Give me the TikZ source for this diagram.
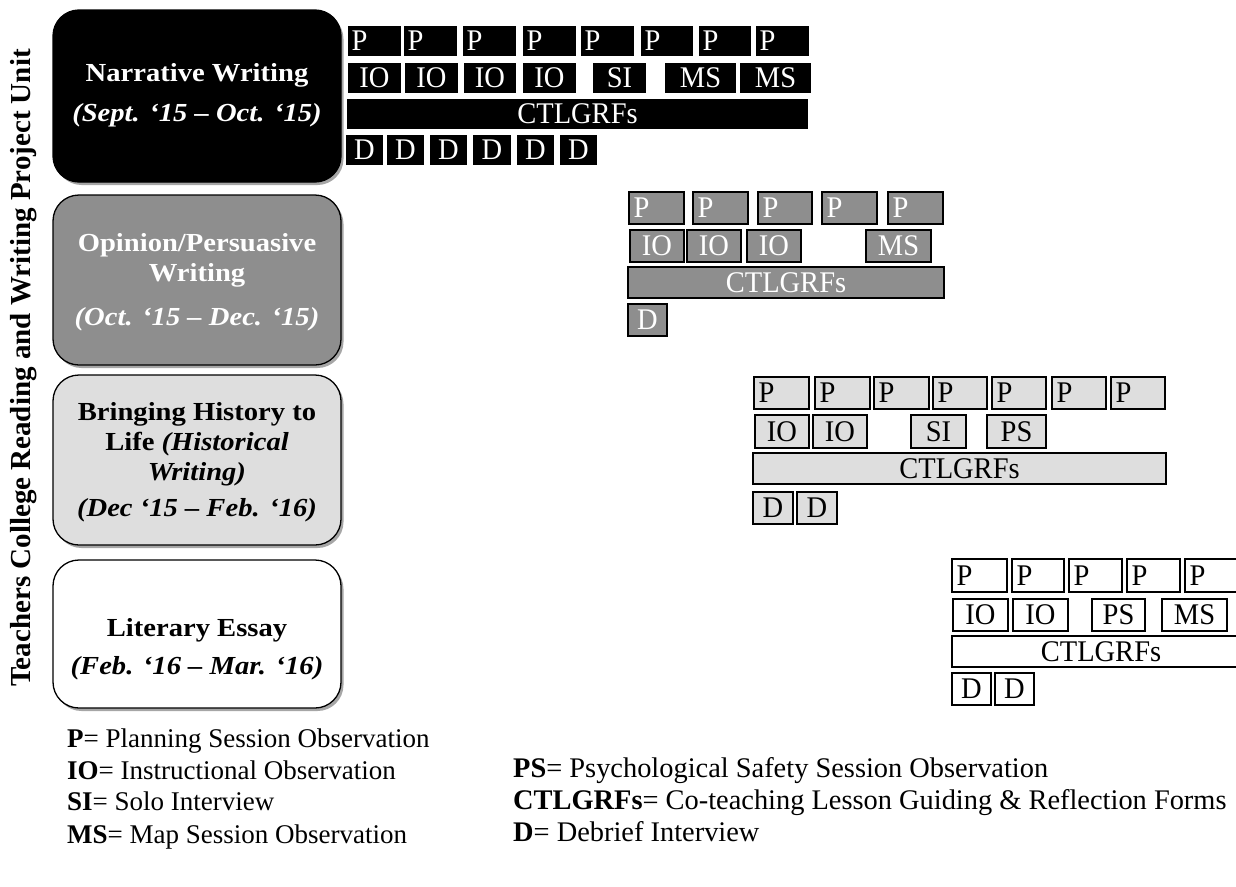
\documentclass[tikz,border=0pt]{standalone}
\usepackage{fontspec}
\setmainfont{Liberation Serif}
\newfontfamily\unitfont[FakeStretch=1.1]{Liberation Serif}
\newfontfamily\cellfont[FakeStretch=0.95]{Liberation Serif}
\usetikzlibrary{shadows}
\definecolor{midgray}{HTML}{8E8E8E}
\definecolor{palegray}{HTML}{DEDEDE}
\tikzset{
  unitbox/.style={draw=black, line width=1.3pt, rounded corners=26pt,
    drop shadow={shadow xshift=2.5pt, shadow yshift=-3pt, opacity=0.35, fill=black}},
  unitlabel/.style={align=center, inner sep=0, font=\unitfont\fontsize{26}{30}\selectfont\bfseries},
  cellbase/.style={draw=black, line width=1.1pt, inner sep=0, font=\cellfont\fontsize{30}{30}\selectfont},
  cellA/.style={cellbase, fill=black, text=white, draw=white, line width=1.4pt},
  cellB/.style={cellbase, fill=midgray, text=white},
  cellC/.style={cellbase, fill=palegray, text=black},
  cellD/.style={cellbase, fill=white, text=black},
  legend/.style={anchor=base west, inner sep=0, font=\fontsize{27}{30}\selectfont},
  legendR/.style={anchor=base west, inner sep=0, font=\fontsize{28.4}{30}\selectfont},
  titletext/.style={rotate=90, inner sep=0, font=\fontsize{29}{32}\selectfont\bfseries},
}
\newcommand{\cell}[7]{\node[#1, minimum width={#5-#3}, minimum height={#6-#4}] (#2) at ({(#3+#5)/2},{(#4+#6)/2}) {#7};}
\newcommand{\pcell}[6]{\pgfmathsetmacro{\pcw}{#5-#3-9}\node[#1, minimum width={#5-#3}, minimum height={#6-#4}, text width=\pcw pt, align=left] (#2) at ({(#3+#5)/2},{(#4+#6)/2}) {P};}
\begin{document}
\begin{tikzpicture}[x=1pt,y=-1pt]
\useasboundingbox[fill=white] (0,0) rectangle (1236,886);

% title
\node[titletext] (title) at (24,368) {Teachers College Reading and Writing Project Unit};

% unit boxes
\node[unitbox, fill=black, minimum width=288, minimum height=172] (u1) at (197,96) {};
\node[unitbox, fill=midgray, minimum width=288, minimum height=170] (u2) at (197,280) {};
\node[unitbox, fill=palegray, minimum width=288, minimum height=170] (u3) at (197,460) {};
\node[unitbox, fill=white, minimum width=288, minimum height=148] (u4) at (197,634) {};

\node[unitlabel, text=white] (l1) at (197,95) {Narrative Writing\\[10pt]\textit{(Sept. ‘15 – Oct. ‘15)}};
\node[unitlabel, text=white] (l2) at (197,282) {Opinion/Persuasive\\Writing\\[14pt]\textit{(Oct. ‘15 – Dec. ‘15)}};
\node[unitlabel, text=black] (l3) at (197,462) {Bringing History to\\Life \textit{(Historical}\\\textit{Writing)}\\[6pt]\textit{(Dec ‘15 – Feb. ‘16)}};
\node[unitlabel, text=black] (l4) at (197,649) {Literary Essay\\[8pt]\textit{(Feb. ‘16 – Mar. ‘16)}};

% block 1
\pcell{cellA}{a1}{347}{25}{402}{57}
\pcell{cellA}{a2}{403}{25}{458}{57}
\pcell{cellA}{a3}{462}{25}{517}{57}
\pcell{cellA}{a4}{522}{25}{577}{57}
\pcell{cellA}{a5}{580}{25}{635}{57}
\pcell{cellA}{a6}{640}{25}{694}{57}
\pcell{cellA}{a7}{698}{25}{752}{57}
\pcell{cellA}{a8}{755}{25}{810}{57}
\cell{cellA}{ai1}{347}{62}{402}{94}{IO}
\cell{cellA}{ai2}{404}{62}{459}{94}{IO}
\cell{cellA}{ai3}{463}{62}{517}{94}{IO}
\cell{cellA}{ai4}{522}{62}{577}{94}{IO}
\cell{cellA}{as1}{592}{62}{647}{94}{SI}
\cell{cellA}{am1}{664}{62}{737}{94}{MS}
\cell{cellA}{am2}{739}{62}{812}{94}{MS}
\cell{cellA}{ac}{346}{98}{809}{130}{CTLGRFs}
\cell{cellA}{ad1}{345}{134}{384}{166}{D}
\cell{cellA}{ad2}{386}{134}{425}{166}{D}
\cell{cellA}{ad3}{429}{134}{468}{166}{D}
\cell{cellA}{ad4}{472}{134}{512}{166}{D}
\cell{cellA}{ad5}{516}{134}{555}{166}{D}
\cell{cellA}{ad6}{559}{134}{598}{166}{D}

% block 2
\pcell{cellB}{b1}{629}{192}{684}{224}
\pcell{cellB}{b2}{693}{192}{748}{224}
\pcell{cellB}{b3}{758}{192}{812}{224}
\pcell{cellB}{b4}{822}{192}{877}{224}
\pcell{cellB}{b5}{888}{192}{943}{224}
\cell{cellB}{bi1}{630}{230}{684}{262}{IO}
\cell{cellB}{bi2}{687}{230}{741}{262}{IO}
\cell{cellB}{bi3}{747}{230}{801}{262}{IO}
\cell{cellB}{bm1}{866}{230}{931}{262}{MS}
\cell{cellB}{bc}{628}{267}{944}{298}{CTLGRFs}
\cell{cellB}{bd1}{628}{304}{667}{336}{D}

% block 3
\pcell{cellC}{c1}{754}{377}{809}{409}
\pcell{cellC}{c2}{815}{377}{870}{409}
\pcell{cellC}{c3}{874}{377}{929}{409}
\pcell{cellC}{c4}{933}{377}{987}{409}
\pcell{cellC}{c5}{992}{377}{1046}{409}
\pcell{cellC}{c6}{1052}{377}{1106}{409}
\pcell{cellC}{c7}{1111}{377}{1165}{409}
\cell{cellC}{ci1}{755}{415}{809}{448}{IO}
\cell{cellC}{ci2}{813}{415}{867}{448}{IO}
\cell{cellC}{cs1}{911}{415}{966}{448}{SI}
\cell{cellC}{cp1}{987}{415}{1046}{448}{PS}
\cell{cellC}{cc}{753}{453}{1166}{484}{CTLGRFs}
\cell{cellC}{cd1}{753}{492}{793}{524}{D}
\cell{cellC}{cd2}{797}{492}{837}{524}{D}

% block 4
\pcell{cellD}{d1}{952}{559}{1007}{592}
\pcell{cellD}{d2}{1012}{559}{1064}{592}
\pcell{cellD}{d3}{1069}{559}{1122}{592}
\pcell{cellD}{d4}{1127}{559}{1180}{592}
\pcell{cellD}{d5}{1185}{559}{1242}{592}
\cell{cellD}{di1}{953}{599}{1008}{631}{IO}
\cell{cellD}{di2}{1013}{599}{1068}{631}{IO}
\cell{cellD}{dp1}{1092}{599}{1145}{631}{PS}
\cell{cellD}{dm1}{1162}{599}{1227}{631}{MS}
\cell{cellD}{dc}{952}{636}{1250}{667}{CTLGRFs}
\cell{cellD}{dd1}{952}{673}{991}{705}{D}
\cell{cellD}{dd2}{995}{673}{1034}{705}{D}

% legend
\node[legend] (kp) at (67,747) {\textbf{P}= Planning Session Observation};
\node[legend] (kio) at (67,779) {\textbf{IO}= Instructional Observation};
\node[legend] (ksi) at (67,810) {\textbf{SI}= Solo Interview};
\node[legend] (kms) at (67,843) {\textbf{MS}= Map Session Observation};
\node[legendR] (kps) at (513,777) {\textbf{PS}= Psychological Safety Session Observation};
\node[legendR] (kct) at (513,809) {\textbf{CTLGRFs}= Co-teaching Lesson Guiding \& Reflection Forms};
\node[legendR] (kd) at (513,841) {\textbf{D}= Debrief Interview};
\end{tikzpicture}
\end{document}
